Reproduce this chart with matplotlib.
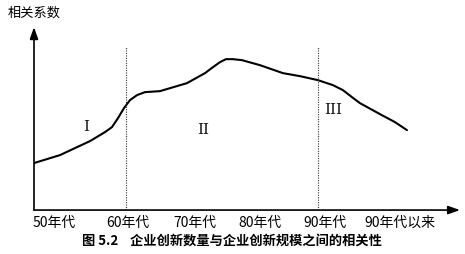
"""Figure 5.2: correlation between innovation count and firm size over decades."""
import matplotlib
matplotlib.use("Agg")
import matplotlib.pyplot as plt

plt.rcParams["font.family"] = ["Noto Sans CJK SC", "DejaVu Sans"]

# curve values (relative units along the time axis / correlation axis)
curve_x = [0, 26, 56, 71, 78, 84, 90, 96, 103, 111, 126, 153, 171, 179, 186,
           192, 199, 208, 226, 249, 266, 284, 299, 309, 318, 326, 346, 361, 373]
curve_y = [47, 55, 69, 78, 83, 92, 102, 110, 115, 118, 119, 127, 137, 143, 148,
           151, 151, 150, 145, 137, 134, 130, 125, 120, 113, 107, 96, 88, 80]

tick_pos = [20, 94, 161, 226, 291, 366]
tick_labels = ["50年代", "60年代", "70年代", "80年代", "90年代", "90年代以来"]

boundaries = [92, 284]
boundary_top = 163

stage_x = [52, 169, 299]
stage_y = [83, 80, 100]
stage_labels = ["I", "II", "III"]

fig = plt.figure(figsize=(4.65, 2.54), dpi=100)
ax = fig.add_axes([0.0731, 0.173, 0.916, 0.720])
ax.set_xlim(0, 426)
ax.set_ylim(0, 183)
for s in ax.spines.values():
    s.set_visible(False)

ax.plot(curve_x, curve_y, color="black", linewidth=1.5,
        solid_capstyle="round", solid_joinstyle="round")

for b in boundaries:
    ax.plot([b, b], [0, boundary_top], color="#333333", linestyle=(0, (1, 1.2)),
            linewidth=0.8)

for x, y, lab in zip(stage_x, stage_y, stage_labels):
    ax.text(x, y, lab, ha="center", va="center", fontsize=11,
            family="DejaVu Serif", color="#111111")

# axes with arrows
ax.annotate("", xy=(0, 183), xytext=(0, 0), annotation_clip=False,
            arrowprops=dict(arrowstyle="-|>,head_length=0.7,head_width=0.25",
                            color="black", lw=1.2, shrinkA=0, shrinkB=0))
ax.annotate("", xy=(426, 0), xytext=(0, 0), annotation_clip=False,
            arrowprops=dict(arrowstyle="-|>,head_length=0.7,head_width=0.25",
                            color="black", lw=1.2, shrinkA=0, shrinkB=0))

ax.set_xticks(tick_pos)
ax.set_xticklabels(tick_labels, fontsize=10)
ax.tick_params(axis="x", length=0, pad=4)
ax.set_yticks([])

fig.text(0.017, 0.949, "相关系数", ha="left", va="center", fontsize=9.5)
fig.text(0.499, 0.051, "图 5.2    企业创新数量与企业创新规模之间的相关性",
         ha="center", va="center", fontsize=9.5, fontweight="bold")

fig.savefig("out.png", dpi=100)
